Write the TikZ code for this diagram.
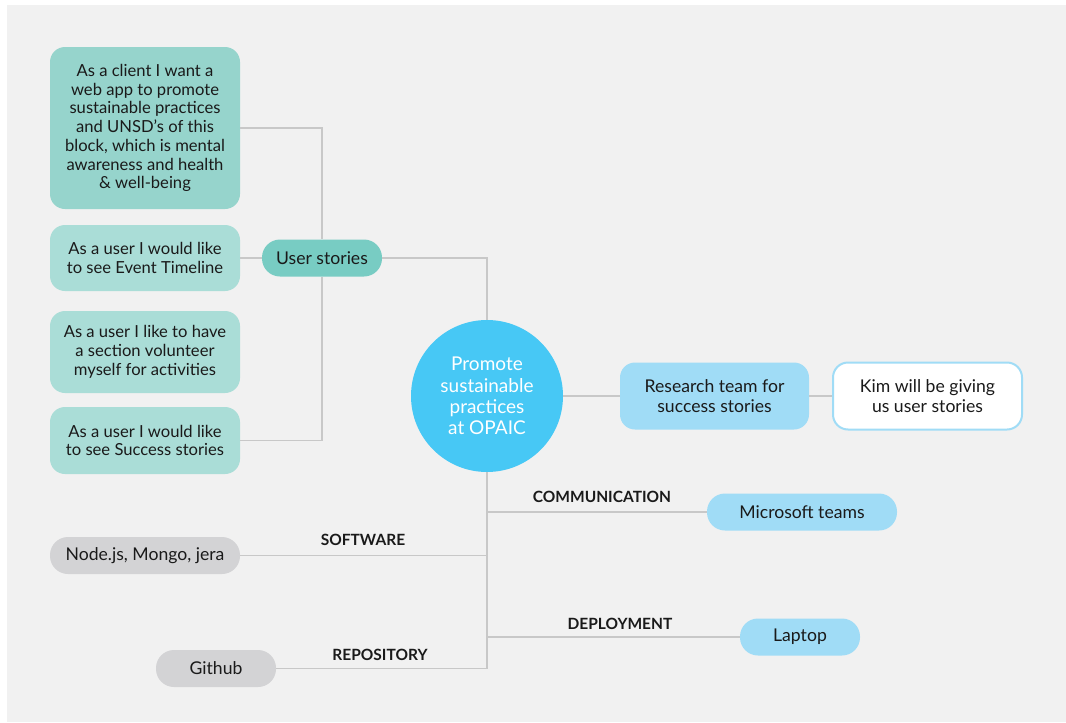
\documentclass[tikz,border=0pt]{standalone}
\usepackage{fontspec}
\setmainfont{Lato}
\usepackage{tikz}
\usetikzlibrary{calc}
\definecolor{paper}{HTML}{F1F1F1}
\definecolor{wire}{HTML}{C8C8C8}
\definecolor{ink}{HTML}{1A1A1A}
\definecolor{tealdark}{HTML}{96D4CC}
\definecolor{teallight}{HTML}{AADDD7}
\definecolor{tealhead}{HTML}{78CCC3}
\definecolor{hubblue}{HTML}{47C8F5}
\definecolor{skyblue}{HTML}{A0DCF6}
\definecolor{greypill}{HTML}{D3D3D5}
\tikzset{
  link/.style={draw=wire, line width=1.3pt},
  story/.style={fill=teallight, text=ink, rounded corners=15pt, minimum width=190pt,
    inner sep=0pt, align=center, font=\fontsize{16.6}{18.7}\selectfont},
  pill/.style={text=ink, rounded corners=18pt, minimum height=37pt, inner sep=0pt,
    align=center, font=\fontsize{17.6}{19.5}\selectfont},
  tag/.style={text=ink, font=\bfseries\fontsize{15.5}{17}\selectfont},
  hubnode/.style={circle, fill=hubblue, text=white, minimum size=152pt, inner sep=0pt,
    align=center, font=\fontsize{19}{21.3}\selectfont},
}
\begin{document}
\begin{tikzpicture}[x=1pt, y=-1pt]
  \useasboundingbox (0,0) rectangle (1066,723);
  \fill[white] (0,0) rectangle (1066,723);
  \fill[paper] (7,5) rectangle (1066,722);
  % user stories
  \node[story, fill=tealdark, minimum height=162pt] (s1) at (145,128)
    {As a client I want a\\web app to promote\\sustainable practices\\and UNSD's of this\\block, which is mental\\awareness and health\\\& well-being};
  \node[story, minimum height=66pt] (s2) at (145,258) {As a user I would like\\to see Event Timeline};
  \node[story, minimum height=82pt] (s3) at (145,352) {As a user I like to have\\a section volunteer\\myself for activities};
  \node[story, minimum height=67pt] (s4) at (145,440.5) {As a user I would like\\to see Success stories};
  \node[pill, fill=tealhead, minimum width=120pt] (us) at (322,258) {User stories};
  % centre
  \node[hubnode] (hub) at (487,396) {Promote\\sustainable\\practices\\at OPAIC};
  \node[pill, fill=skyblue, minimum width=189pt, minimum height=67pt, rounded corners=15pt] (rt) at (714.5,396) {Research team for\\success stories};
  \node[pill, fill=white, draw=skyblue, line width=2pt, minimum width=189pt, minimum height=67pt, rounded corners=15pt] (kim) at (927.5,396) {Kim will be giving\\us user stories};
  % branches below
  \node[pill, fill=skyblue, minimum width=190pt] (ms) at (802,512) {Microsoft teams};
  \node[pill, fill=greypill, minimum width=190pt] (sw) at (145,555.5) {Node.js, Mongo, jera};
  \node[pill, fill=skyblue, minimum width=120pt] (lap) at (800,637) {Laptop};
  \node[pill, fill=greypill, minimum width=120pt] (git) at (216,668.5) {Github};
  \node[tag] (tcom) at (602,497) {COMMUNICATION};
  \node[tag] (tsw) at (363,540) {SOFTWARE};
  \node[tag] (tdep) at (620,624) {DEPLOYMENT};
  \node[tag] (trep) at (380,655) {REPOSITORY};
  % connectors
  \draw[link] (s1.east) -| (us.north);
  \draw[link] (s4.east) -| (us.south);
  \draw[link] (s2.east) -- (us.west);
  \draw[link] (us.east) -| (hub.north);
  \draw[link] (hub.east) -- (rt.west);
  \draw[link] (rt.east) -- (kim.west);
  \draw[link] (hub.south) |- (git.east);
  \draw[link] (hub.south |- ms.west) -- (ms.west);
  \draw[link] (hub.south |- sw.east) -- (sw.east);
  \draw[link] (hub.south |- lap.west) -- (lap.west);
\end{tikzpicture}
\end{document}
